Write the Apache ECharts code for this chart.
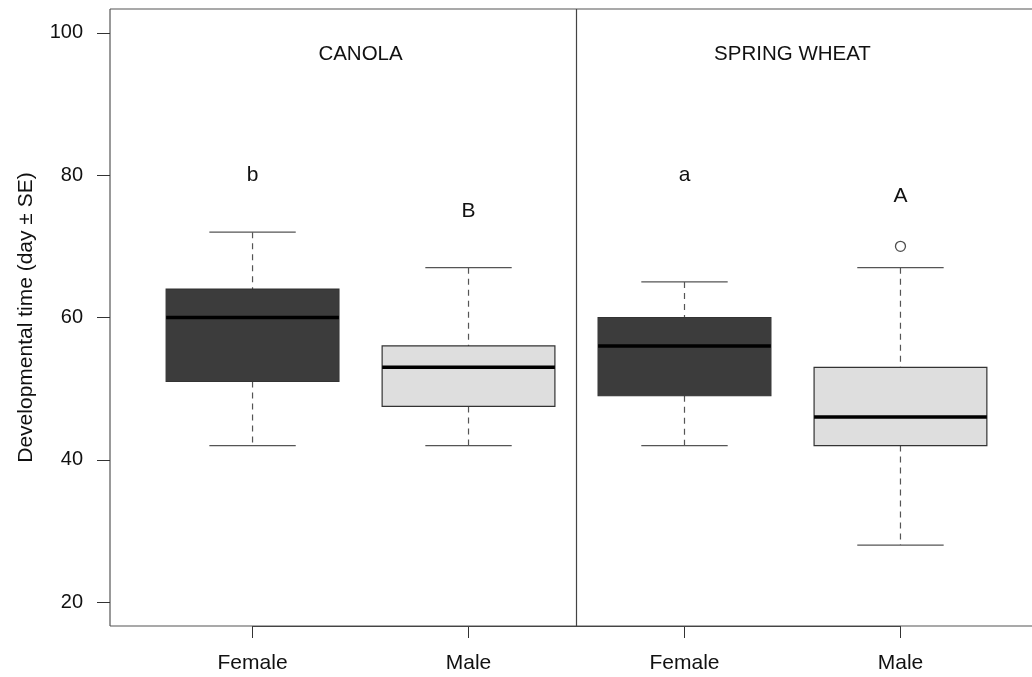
<!DOCTYPE html>
<html><head><meta charset="utf-8">
<script src="https://cdn.jsdelivr.net/npm/echarts@6/dist/echarts.min.js"></script>
<style>html,body{margin:0;padding:0;background:#fff}#c{width:1032px;height:677px}</style>
</head><body><div id="c"></div>
<script>
// ---- data ----
const categories = ['Female', 'Male', 'Female', 'Male'];
const panels = ['CANOLA', 'SPRING WHEAT'];
const panelCenters = [1.5, 3.5];
const panelLabelY = 97;
// [lower whisker, Q1, median, Q3, upper whisker]
const boxStats = [
  [42, 51, 60, 64, 72],
  [42, 47.5, 53, 56, 67],
  [42, 49, 56, 60, 65],
  [28, 42, 46, 53, 67]
];
const outliers = [[4, 70]];
const letters = ['b', 'B', 'a', 'A'];
const letterY = [80, 75, 80, 77];
const yTicks = [20, 40, 60, 80, 100];
const panelDivider = 2.5;

// ---- chart ----
const FONT = 'Liberation Sans, Arial, sans-serif';
const FILL = { Female: '#3c3c3c', Male: '#dedede' };
const Y_MIN = 16.63, Y_MAX = 103.37;
const X_MIN = 0.34, X_MAX = 4.609;

const chart = echarts.init(document.getElementById('c'), null, { renderer: 'canvas' });

const option = {
  animation: false,
  backgroundColor: '#fff',
  grid: { left: 110, right: 0, top: 9, bottom: 51, containLabel: false, outerBoundsMode: 'none' },
  xAxis: {
    type: 'value', min: X_MIN, max: X_MAX,
    splitLine: { show: false },
    axisLine: { show: false },
    axisTick: { show: true, customValues: categories.map((c, i) => i + 1), length: 12, lineStyle: { color: '#333', width: 1 } },
    axisLabel: {
      customValues: categories.map((c, i) => i + 1),
      formatter: v => categories[Math.round(v) - 1] || '',
      fontSize: 21, color: '#111', fontFamily: FONT, margin: 27
    }
  },
  yAxis: {
    type: 'value', min: Y_MIN, max: Y_MAX,
    name: 'Developmental time (day \u00b1 SE)',
    nameLocation: 'middle', nameGap: 73, nameRotate: 90,
    nameTextStyle: { fontSize: 21, color: '#111', fontFamily: FONT },
    splitLine: { show: false },
    axisLine: { show: false },
    axisTick: { show: true, customValues: yTicks, length: 13, lineStyle: { color: '#333', width: 1 } },
    axisLabel: { customValues: yTicks, fontSize: 20, color: '#111', fontFamily: FONT, margin: 27 }
  },
  graphic: [
    { type: 'line', shape: { x1: 110, y1: 9, x2: 1032, y2: 9 }, style: { stroke: '#555', lineWidth: 1.2 }, silent: true },
    { type: 'line', shape: { x1: 110, y1: 9, x2: 110, y2: 626 }, style: { stroke: '#555', lineWidth: 1.2 }, silent: true },
    { type: 'line', shape: { x1: 110, y1: 626, x2: 1032, y2: 626 }, style: { stroke: '#555', lineWidth: 1.2 }, silent: true }
  ],
  series: [
    {
      type: 'custom',
      name: 'boxes',
      data: boxStats.map((s, i) => [i + 1].concat(s)),
      encode: { x: 0, y: [1, 2, 3, 4, 5] },
      renderItem: function (params, api) {
        const x = api.value(0);
        const idx = params.dataIndex;
        const lo = api.coord([x, api.value(1)]);
        const q1 = api.coord([x, api.value(2)]);
        const med = api.coord([x, api.value(3)]);
        const q3 = api.coord([x, api.value(4)]);
        const hi = api.coord([x, api.value(5)]);
        const w = api.size([0.8, 0])[0];
        const cx = lo[0];
        const dash = { stroke: '#555', lineWidth: 1.2, lineDash: [6, 5] };
        const solid = { stroke: '#555', lineWidth: 1.2 };
        return {
          type: 'group',
          children: [
            { type: 'line', shape: { x1: cx, y1: hi[1], x2: cx, y2: q3[1] }, style: dash },
            { type: 'line', shape: { x1: cx, y1: q1[1], x2: cx, y2: lo[1] }, style: dash },
            { type: 'line', shape: { x1: cx - w / 4, y1: hi[1], x2: cx + w / 4, y2: hi[1] }, style: solid },
            { type: 'line', shape: { x1: cx - w / 4, y1: lo[1], x2: cx + w / 4, y2: lo[1] }, style: solid },
            { type: 'rect', shape: { x: cx - w / 2, y: q3[1], width: w, height: q1[1] - q3[1] },
              style: { fill: FILL[categories[idx]], stroke: '#333', lineWidth: 1.2 } },
            { type: 'line', shape: { x1: cx - w / 2, y1: med[1], x2: cx + w / 2, y2: med[1] }, style: { stroke: '#000', lineWidth: 3.5 } }
          ]
        };
      },
      markLine: {
        silent: true, symbol: 'none', animation: false,
        label: { show: false },
        lineStyle: { color: '#444', width: 1.2, type: 'solid' },
        data: [
          { xAxis: panelDivider },
          [{ coord: [1, Y_MIN] }, { coord: [categories.length, Y_MIN] }]
        ]
      }
    },
    {
      type: 'scatter',
      name: 'outliers',
      data: outliers,
      symbol: 'circle', symbolSize: 10,
      itemStyle: { color: '#fff', borderColor: '#222', borderWidth: 1.3 }
    },
    {
      type: 'custom',
      name: 'letters',
      data: letters.map((l, i) => [i + 1, letterY[i]]),
      renderItem: function (params, api) {
        const p = api.coord([api.value(0), api.value(1)]);
        return { type: 'text', x: p[0], y: p[1],
          style: { text: letters[params.dataIndex], textAlign: 'center', textVerticalAlign: 'middle', fontSize: 21, fontFamily: FONT, fill: '#111' } };
      }
    },
    {
      type: 'custom',
      name: 'panels',
      data: panels.map((p, i) => [panelCenters[i], panelLabelY]),
      renderItem: function (params, api) {
        const p = api.coord([api.value(0), api.value(1)]);
        return { type: 'text', x: p[0], y: p[1],
          style: { text: panels[params.dataIndex], textAlign: 'center', textVerticalAlign: 'middle', fontSize: 20.5, fontFamily: FONT, fill: '#111' } };
      }
    }
  ]
};
chart.setOption(option);
</script>
</body></html>
